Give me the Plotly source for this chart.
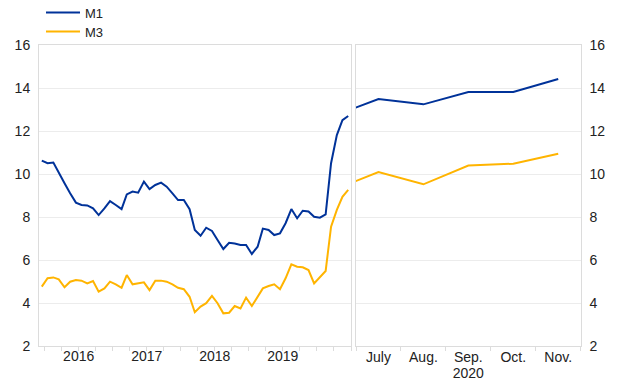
import plotly.graph_objects as go
import pandas as pd

# ---- data ----
months_left = [d.strftime("%Y-%m-%d") for d in pd.date_range("2015-12-01", "2020-06-01", freq="MS")]
m1_left = [10.62, 10.50, 10.53, 10.03, 9.57, 9.10, 8.67, 8.56, 8.54, 8.40, 8.09, 8.40,
           8.74, 8.56, 8.37, 9.05, 9.18, 9.13, 9.65, 9.30, 9.49, 9.60, 9.41, 9.10,
           8.79, 8.79, 8.36, 7.40, 7.13, 7.50, 7.35, 6.93, 6.51, 6.80, 6.77, 6.70,
           6.70, 6.28, 6.62, 7.46, 7.40, 7.16, 7.24, 7.71, 8.37, 7.94, 8.29, 8.26,
           8.01, 7.97, 8.12, 10.50, 11.81, 12.50, 12.70]
m3_left = [4.76, 5.15, 5.19, 5.10, 4.73, 4.99, 5.07, 5.04, 4.91, 5.02, 4.53, 4.68,
           4.99, 4.87, 4.71, 5.30, 4.87, 4.91, 4.96, 4.60, 5.04, 5.04, 4.99, 4.87,
           4.71, 4.64, 4.29, 3.57, 3.83, 3.99, 4.33, 3.99, 3.52, 3.55, 3.86, 3.75,
           4.25, 3.86, 4.29, 4.68, 4.79, 4.87, 4.64, 5.15, 5.80, 5.69, 5.66, 5.53,
           4.91, 5.22, 5.49, 7.55, 8.33, 8.94, 9.26]

months_right = ["June", "July", "Aug.", "Sep.", "Oct.", "Nov."]
m1_right = [12.70, 13.49, 13.24, 13.81, 13.81, 14.42]
m3_right = [9.26, 10.09, 9.52, 10.39, 10.48, 10.94]

year_ticks = ["2016-06-16", "2017-06-16", "2018-06-16", "2019-06-16"]
year_labels = ["2016", "2017", "2018", "2019"]
boundary_ticks = [d.strftime("%Y-%m-16") for d in pd.date_range("2015-12-01", "2020-06-01", freq="3MS")]
right_labels = ["July", "Aug.", "Sep.", "Oct.", "Nov."]
y_ticks = [2, 4, 6, 8, 10, 12, 14, 16]

BLUE = "#003299"
YELLOW = "#FFB400"
GRID = "#ececec"
FRAME = "#dcdcdc"
TXT = "#222222"
FONT = "Arial, Liberation Sans, sans-serif"

fig = go.Figure()
fig.add_trace(go.Scatter(x=months_left, y=m1_left, mode="lines", name="M1", legend="legend",
                         line=dict(color=BLUE, width=2), xaxis="x", yaxis="y"))
fig.add_trace(go.Scatter(x=months_left, y=m3_left, mode="lines", name="M3", legend="legend2",
                         line=dict(color=YELLOW, width=2), xaxis="x", yaxis="y"))
fig.add_trace(go.Scatter(x=months_right, y=m1_right, mode="lines", name="M1",
                         line=dict(color=BLUE, width=2), xaxis="x2", yaxis="y2", showlegend=False))
fig.add_trace(go.Scatter(x=months_right, y=m3_right, mode="lines", name="M3",
                         line=dict(color=YELLOW, width=2), xaxis="x2", yaxis="y2", showlegend=False))
# carrier for the year-label axis (no visible marks)
fig.add_trace(go.Scatter(x=year_ticks, y=[None] * len(year_ticks), mode="lines",
                         xaxis="x3", yaxis="y", showlegend=False, hoverinfo="skip"))

W, H = 620, 387
dl = [39 / W, 351 / W]
dr = [356 / W, 580.7 / W]
dy = [1 - 346 / H, 1 - 45 / H]

leg_common = dict(xref="container", yref="container", xanchor="left", yanchor="middle",
                  bgcolor="rgba(0,0,0,0)", font=dict(size=13, color=TXT), itemwidth=34)

fig.update_layout(
    width=W, height=H,
    margin=dict(l=0, r=0, t=0, b=0, autoexpand=False),
    paper_bgcolor="white", plot_bgcolor="white",
    font=dict(family=FONT, size=14, color=TXT),
    showlegend=True,
    legend=dict(x=41 / W, y=1 - 12.5 / H, **leg_common),
    legend2=dict(x=41 / W, y=1 - 31.5 / H, **leg_common),
    xaxis=dict(domain=dl, type="date", range=["2015-11-16", "2020-06-16"],
               tickmode="array", tickvals=boundary_ticks, ticktext=[""] * len(boundary_ticks),
               ticks="outside", ticklen=4, tickcolor=FRAME, automargin=False,
               showgrid=False, showline=True, mirror=True, linecolor=FRAME, linewidth=1,
               anchor="y", zeroline=False),
    xaxis3=dict(domain=dl, type="date", range=["2015-11-16", "2020-06-16"], overlaying="x",
                anchor="y", side="bottom", automargin=False,
                tickmode="array", tickvals=year_ticks, ticktext=year_labels, ticks="",
                showgrid=False, showline=False, zeroline=False,
                tickfont=dict(size=14, color=TXT)),
    yaxis=dict(domain=dy, range=[2, 16], tickvals=y_ticks, ticks="", automargin=False,
               showgrid=True, gridcolor=GRID, gridwidth=1,
               showline=True, mirror=True, linecolor=FRAME, zeroline=False,
               anchor="x", side="left", ticklabelstandoff=5),
    xaxis2=dict(domain=dr, type="category", range=[0.5, 5.5], automargin=False,
                tickmode="array", tickvals=right_labels, ticktext=right_labels,
                ticks="outside", tickson="boundaries", ticklen=4, tickcolor=FRAME,
                showgrid=False, showline=True, mirror=True, linecolor=FRAME,
                anchor="y2", zeroline=False, ticklabelstandoff=-2,
                title=dict(text="2020", standoff=0, font=dict(size=14, color=TXT))),
    yaxis2=dict(domain=dy, range=[2, 16], tickvals=y_ticks, ticks="", automargin=False,
                showgrid=True, gridcolor=GRID, gridwidth=1,
                showline=True, mirror=True, linecolor=FRAME, zeroline=False,
                anchor="x2", side="right", ticklabelstandoff=5),
)

fig.write_html("out.html", config={"displayModeBar": False},
               post_script="document.body.style.margin='0px';")
